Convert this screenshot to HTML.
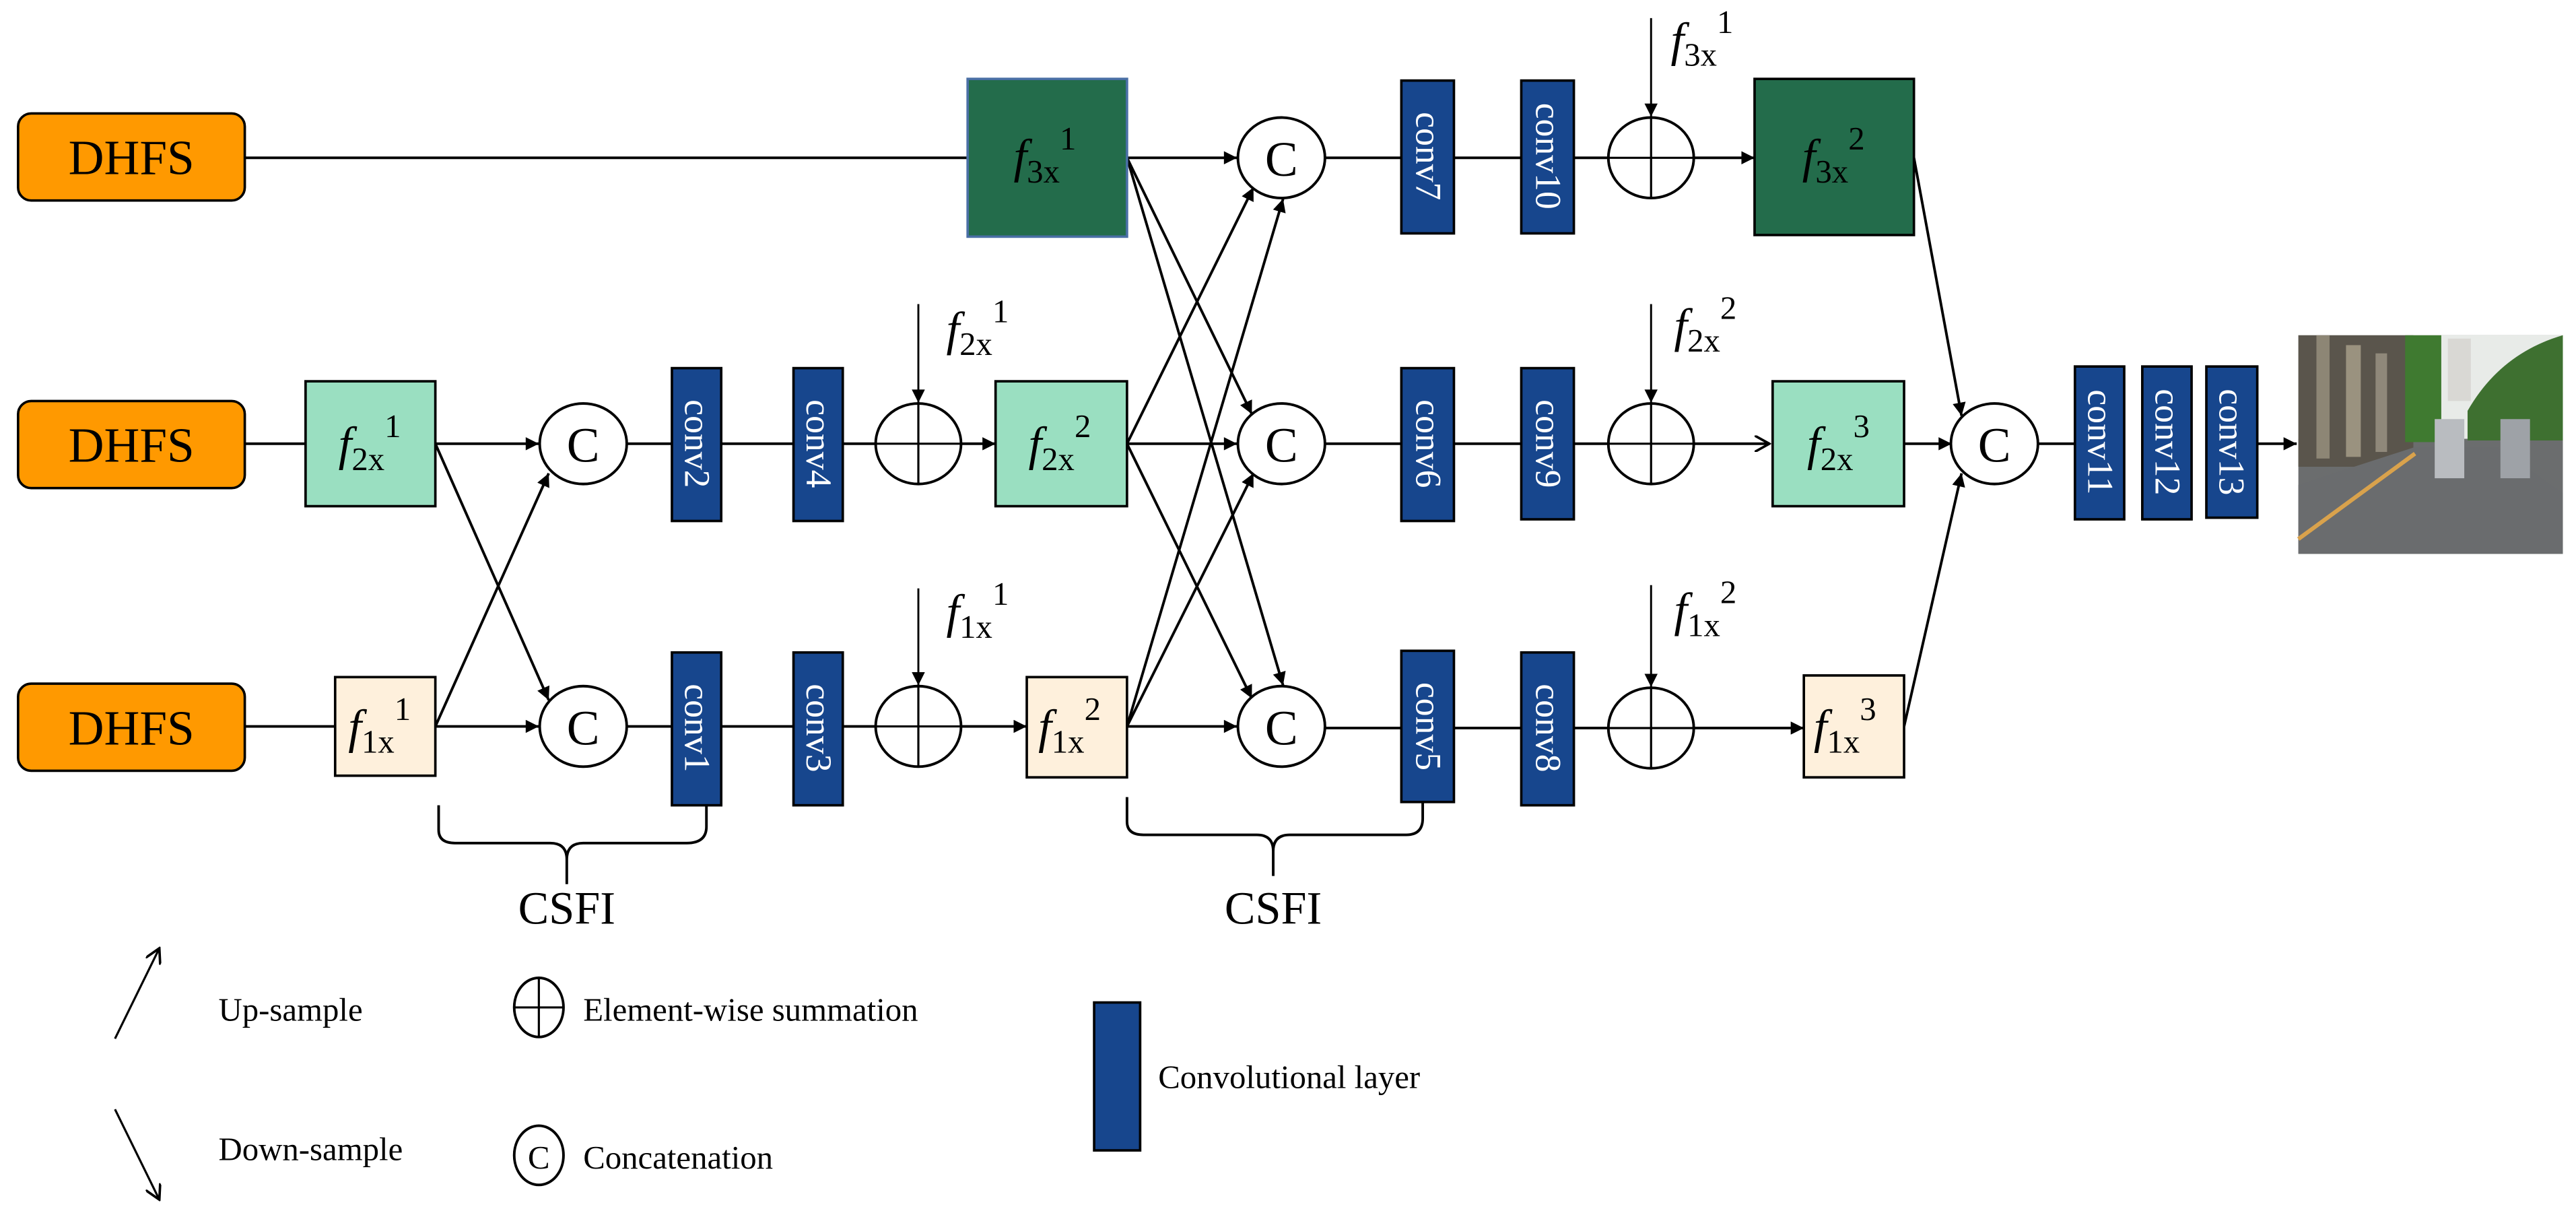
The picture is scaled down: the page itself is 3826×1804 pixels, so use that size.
<!DOCTYPE html>
<html><head><meta charset="utf-8"><style>html,body{margin:0;padding:0;background:#fff}svg{display:block}svg text{font-family:"Liberation Serif","Times New Roman",Times,"DejaVu Serif",serif}</style></head>
<body>
<svg width="3826" height="1804" viewBox="0 0 1568 739.3" xmlns="http://www.w3.org/2000/svg">
<defs>
<marker id="a" viewBox="0 0 10 10" refX="10" refY="5" markerWidth="9" markerHeight="8" markerUnits="userSpaceOnUse" orient="auto"><path d="M0,0 L10,5 L0,10 z" fill="#000"/></marker>
<marker id="o" viewBox="0 0 10 10" refX="9" refY="5" markerWidth="10" markerHeight="10" markerUnits="userSpaceOnUse" orient="auto"><path d="M0,0 L9,5 L0,10" fill="none" stroke="#000" stroke-width="1.5"/></marker>
</defs>
<g stroke="#000" stroke-width="1.6" fill="none">
<line x1="149" y1="96" x2="589" y2="96"/>
<line x1="149" y1="270" x2="186" y2="270"/>
<line x1="149" y1="442" x2="204" y2="442"/>
<line x1="265" y1="270" x2="328" y2="270" marker-end="url(#a)"/>
<line x1="265" y1="442" x2="328" y2="442" marker-end="url(#a)"/>
<line x1="265" y1="270" x2="334" y2="426" marker-end="url(#a)"/>
<line x1="265" y1="442" x2="334" y2="288" marker-end="url(#a)"/>
<line x1="381" y1="270" x2="409" y2="270"/><line x1="439" y1="270" x2="483" y2="270"/><line x1="513" y1="270" x2="533" y2="270"/>
<line x1="381" y1="442" x2="409" y2="442"/><line x1="439" y1="442" x2="483" y2="442"/><line x1="513" y1="442" x2="533" y2="442"/>
<line x1="585" y1="270" x2="606" y2="270" marker-end="url(#a)"/>
<line x1="585" y1="442" x2="625" y2="442" marker-end="url(#a)"/>
<line x1="559" y1="185" x2="559" y2="245" stroke-width="1.2" marker-end="url(#a)"/>
<line x1="559" y1="358" x2="559" y2="417" stroke-width="1.2" marker-end="url(#a)"/>
<line x1="686" y1="96" x2="753" y2="96" marker-end="url(#a)"/>
<line x1="686" y1="270" x2="753" y2="270" marker-end="url(#a)"/>
<line x1="686" y1="442" x2="753" y2="442" marker-end="url(#a)"/>
<line x1="686" y1="96" x2="762" y2="252" marker-end="url(#a)"/>
<line x1="686" y1="96" x2="781" y2="417" marker-end="url(#a)"/>
<line x1="686" y1="270" x2="763" y2="114" marker-end="url(#a)"/>
<line x1="686" y1="270" x2="762" y2="425" marker-end="url(#a)"/>
<line x1="686" y1="442" x2="781" y2="121" marker-end="url(#a)"/>
<line x1="686" y1="442" x2="763" y2="288" marker-end="url(#a)"/>
<line x1="806" y1="96" x2="853" y2="96"/><line x1="885" y1="96" x2="926" y2="96"/><line x1="958" y1="96" x2="979" y2="96"/>
<line x1="806" y1="270" x2="853" y2="270"/><line x1="885" y1="270" x2="926" y2="270"/><line x1="958" y1="270" x2="979" y2="270"/>
<line x1="806" y1="443" x2="853" y2="443"/><line x1="885" y1="443" x2="926" y2="443"/><line x1="958" y1="443" x2="979" y2="443"/>
<line x1="1031" y1="96" x2="1068" y2="96" marker-end="url(#a)"/>
<line x1="1031" y1="270" x2="1077" y2="270" marker-end="url(#o)"/>
<line x1="1031" y1="443" x2="1098" y2="443" marker-end="url(#a)"/>
<line x1="1005" y1="11" x2="1005" y2="71" stroke-width="1.2" marker-end="url(#a)"/>
<line x1="1005" y1="185" x2="1005" y2="245" stroke-width="1.2" marker-end="url(#a)"/>
<line x1="1005" y1="356" x2="1005" y2="418" stroke-width="1.2" marker-end="url(#a)"/>
<line x1="1165" y1="96" x2="1194" y2="253" marker-end="url(#a)"/>
<line x1="1159" y1="270" x2="1188" y2="270" marker-end="url(#a)"/>
<line x1="1159" y1="442" x2="1194" y2="288" marker-end="url(#a)"/>
<line x1="1240" y1="270" x2="1263" y2="270"/>
<line x1="1374" y1="270" x2="1398" y2="270" marker-end="url(#a)"/>
<path d="M267,490 L267,505 Q267,513 277,513 L335,513 Q345,513 345,523 L345,538 M345,523 Q345,513 355,513 L418,513 Q430,513 430,503 L430,488"/>
<path d="M686,485 L686,500 Q686,508 696,508 L765,508 Q775,508 775,518 L775,533 M775,518 Q775,508 785,508 L856,508 Q866,508 866,498 L866,488"/>
<line x1="70" y1="632" x2="97" y2="577" stroke-width="1.3" marker-end="url(#o)"/>
<line x1="70" y1="675" x2="97" y2="730" stroke-width="1.3" marker-end="url(#o)"/>
</g>
<g fill="#FF9900" stroke="#000" stroke-width="1.5">
<rect x="11" y="69" width="138" height="53" rx="8"/>
<rect x="11" y="244" width="138" height="53" rx="8"/>
<rect x="11" y="416" width="138" height="53" rx="8"/>
</g>
<g font-size="30" text-anchor="middle"><text x="80" y="106">DHFS</text><text x="80" y="281">DHFS</text><text x="80" y="453">DHFS</text></g>
<rect x="589" y="48" width="97" height="96" fill="#236C4B" stroke="#4A6FA5" stroke-width="1.5"/>
<rect x="1068" y="48" width="97" height="95" fill="#236C4B" stroke="#000" stroke-width="1.5"/>
<g fill="#9ADFC1" stroke="#000" stroke-width="1.5">
<rect x="186" y="232" width="79" height="76"/><rect x="606" y="232" width="80" height="76"/><rect x="1079" y="232" width="80" height="76"/>
</g>
<g fill="#FEF0DC" stroke="#000" stroke-width="1.5">
<rect x="204" y="412" width="61" height="60"/><rect x="625" y="412" width="61" height="61"/><rect x="1098" y="411" width="61" height="62"/>
</g>
<g fill="#fff" stroke="#000" stroke-width="1.6">
<ellipse cx="355" cy="270" rx="26.5" ry="24.5"/><ellipse cx="355" cy="442" rx="26.5" ry="24.5"/>
<ellipse cx="780" cy="96" rx="26.5" ry="24.5"/><ellipse cx="780" cy="270" rx="26.5" ry="24.5"/><ellipse cx="780" cy="442" rx="26.5" ry="24.5"/>
<ellipse cx="1214" cy="270" rx="26.5" ry="24.5"/>
<ellipse cx="559" cy="270" rx="26" ry="24.5"/><ellipse cx="559" cy="442" rx="26" ry="24.5"/>
<ellipse cx="1005" cy="96" rx="26" ry="24.5"/><ellipse cx="1005" cy="270" rx="26" ry="24.5"/><ellipse cx="1005" cy="443" rx="26" ry="24.5"/>
<ellipse cx="328" cy="613" rx="15" ry="18"/><ellipse cx="328" cy="703" rx="15" ry="18"/>
</g>
<g stroke="#000" stroke-width="1.3">
<path d="M533,270H585M559,245V295M533,442H585M559,417V467M979,96H1031M1005,71V121M979,270H1031M1005,245V295M979,443H1031M1005,418V468M313,613H343M328,595V631"/>
</g>
<g font-size="30" text-anchor="middle">
<text x="355" y="281">C</text><text x="355" y="453">C</text><text x="780" y="107">C</text><text x="780" y="281">C</text><text x="780" y="453">C</text><text x="1214" y="281">C</text>
<text x="328" y="711" font-size="20">C</text>
</g>
<g fill="#17468D" stroke="#000" stroke-width="1.5">
<rect x="409" y="224" width="30" height="93"/><rect x="483" y="224" width="30" height="93"/>
<rect x="409" y="397" width="30" height="93"/><rect x="483" y="397" width="30" height="93"/>
<rect x="853" y="49" width="32" height="93"/><rect x="926" y="49" width="32" height="93"/>
<rect x="853" y="224" width="32" height="93"/><rect x="926" y="224" width="32" height="92"/>
<rect x="853" y="396" width="32" height="92"/><rect x="926" y="397" width="32" height="93"/>
<rect x="1263" y="223" width="30" height="93"/><rect x="1304" y="223" width="30" height="93"/><rect x="1343" y="223" width="31" height="92"/>
<rect x="666" y="610" width="28" height="90"/>
</g>
<g fill="#fff" font-size="22" text-anchor="middle">
<text transform="translate(417,270) rotate(90)">conv2</text>
<text transform="translate(491,270) rotate(90)">conv4</text>
<text transform="translate(417,443) rotate(90)">conv1</text>
<text transform="translate(491,443) rotate(90)">conv3</text>
<text transform="translate(862,95) rotate(90)">conv7</text>
<text transform="translate(935,95) rotate(90)">conv10</text>
<text transform="translate(862,270) rotate(90)">conv6</text>
<text transform="translate(935,270) rotate(90)">conv9</text>
<text transform="translate(862,442) rotate(90)">conv5</text>
<text transform="translate(935,443) rotate(90)">conv8</text>
<text transform="translate(1271,269) rotate(90)">conv11</text>
<text transform="translate(1312,269) rotate(90)">conv12</text>
<text transform="translate(1351,269) rotate(90)">conv13</text>
</g>
<g font-size="29">
<text x="617" y="105"><tspan font-style="italic">f</tspan><tspan font-size="20" dy="6">3x</tspan><tspan font-size="20" dy="-20">1</tspan></text>
<text x="1097" y="105"><tspan font-style="italic">f</tspan><tspan font-size="20" dy="6">3x</tspan><tspan font-size="20" dy="-20">2</tspan></text>
<text x="206" y="280"><tspan font-style="italic">f</tspan><tspan font-size="20" dy="6">2x</tspan><tspan font-size="20" dy="-20">1</tspan></text>
<text x="626" y="280"><tspan font-style="italic">f</tspan><tspan font-size="20" dy="6">2x</tspan><tspan font-size="20" dy="-20">2</tspan></text>
<text x="1100" y="280"><tspan font-style="italic">f</tspan><tspan font-size="20" dy="6">2x</tspan><tspan font-size="20" dy="-20">3</tspan></text>
<text x="212" y="452"><tspan font-style="italic">f</tspan><tspan font-size="20" dy="6">1x</tspan><tspan font-size="20" dy="-20">1</tspan></text>
<text x="632" y="452"><tspan font-style="italic">f</tspan><tspan font-size="20" dy="6">1x</tspan><tspan font-size="20" dy="-20">2</tspan></text>
<text x="1104" y="452"><tspan font-style="italic">f</tspan><tspan font-size="20" dy="6">1x</tspan><tspan font-size="20" dy="-20">3</tspan></text>
<text x="576" y="210"><tspan font-style="italic">f</tspan><tspan font-size="20" dy="6">2x</tspan><tspan font-size="20" dy="-20">1</tspan></text>
<text x="576" y="382"><tspan font-style="italic">f</tspan><tspan font-size="20" dy="6">1x</tspan><tspan font-size="20" dy="-20">1</tspan></text>
<text x="1017" y="34"><tspan font-style="italic">f</tspan><tspan font-size="20" dy="6">3x</tspan><tspan font-size="20" dy="-20">1</tspan></text>
<text x="1019" y="208"><tspan font-style="italic">f</tspan><tspan font-size="20" dy="6">2x</tspan><tspan font-size="20" dy="-20">2</tspan></text>
<text x="1019" y="381"><tspan font-style="italic">f</tspan><tspan font-size="20" dy="6">1x</tspan><tspan font-size="20" dy="-20">2</tspan></text>
</g>
<g font-size="28" text-anchor="middle"><text x="345" y="562">CSFI</text><text x="775" y="562">CSFI</text></g>
<g font-size="20">
<text x="133" y="621">Up-sample</text><text x="133" y="706">Down-sample</text>
<text x="355" y="621">Element-wise summation</text><text x="355" y="711">Concatenation</text>
<text x="705" y="662">Convolutional layer</text>
</g>
<g>
<rect x="1399" y="204" width="161" height="133" fill="#6b6d6e"/>
<rect x="1399" y="204" width="161" height="63" fill="#e8ebe8"/>
<rect x="1399" y="204" width="70" height="80" fill="#5a554c"/>
<rect x="1410" y="204" width="8" height="75" fill="#8d8675"/><rect x="1428" y="210" width="9" height="68" fill="#9a927f"/><rect x="1446" y="215" width="7" height="60" fill="#8f887a"/>
<rect x="1464" y="204" width="22" height="65" fill="#3f7a30"/>
<rect x="1490" y="206" width="14" height="38" fill="#d9d8d4"/>
<path d="M1502,250 Q1522,215 1560,204 L1560,268 L1502,268 z" fill="#3e7030"/>
<path d="M1399,295 L1470,272 L1520,272 L1560,300 L1560,337 L1399,337 z" fill="#6a6c6e"/>
<path d="M1399,328 L1470,276" stroke="#d9a24c" stroke-width="2.5"/>
<rect x="1482" y="255" width="18" height="36" fill="#b9bcc0"/><rect x="1522" y="255" width="18" height="36" fill="#9ea2a7"/>
</g>
</svg>
</body></html>
